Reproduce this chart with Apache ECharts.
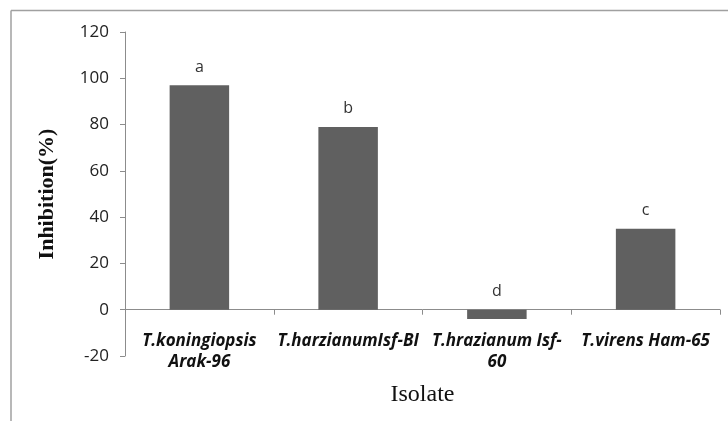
<!DOCTYPE html>
<html>
<head>
<meta charset="utf-8">
<script src="https://cdn.jsdelivr.net/npm/echarts@6/dist/echarts.min.js"></script>
<style>
html,body{margin:0;padding:0;background:#fff;}
#chart{width:728px;height:421px;}
</style>
</head>
<body>
<div id="chart"></div>
<script>
const categories = ['T.koningiopsis Arak-96', 'T.harzianumIsf-BI', 'T.hrazianum Isf-60', 'T.virens Ham-65'];
const categoryLabels = ['T.koningiopsis\nArak-96', 'T.harzianumIsf-BI', 'T.hrazianum Isf-\n60', 'T.virens Ham-65'];
const inhibition = [97, 79, -4, 35];
const letters = ['a', 'b', 'd', 'c'];
const yTicks = { min: -20, max: 120, interval: 20 };

const chart = echarts.init(document.getElementById('chart'), null, { renderer: 'canvas' });
chart.setOption({
  backgroundColor: '#ffffff',
  animation: false,
  graphic: [
    { type: 'line', shape: { x1: 11, y1: 10.5, x2: 728, y2: 10.5 }, style: { stroke: '#a0a0a0', lineWidth: 1.5 } },
    { type: 'line', shape: { x1: 11, y1: 10.5, x2: 11, y2: 421 }, style: { stroke: '#a0a0a0', lineWidth: 1.5 } }
  ],
  grid: { left: 125, right: 8, top: 32, bottom: 65, containLabel: false, outerBoundsMode: 'none' },
  xAxis: {
    type: 'category',
    data: categories,
    name: 'Isolate',
    nameLocation: 'middle',
    nameGap: 27,
    nameTextStyle: { fontFamily: 'Liberation Serif', fontSize: 24, color: '#111' },
    axisLine: { onZero: true, lineStyle: { color: '#8c8c8c', width: 1 } },
    axisTick: { show: true, alignWithLabel: false, length: 5, lineStyle: { color: '#8c8c8c' } },
    axisLabel: {
      interval: 0,
      margin: -25,
      fontFamily: 'Open Sans',
      fontStyle: 'italic',
      fontWeight: 'bold',
      fontSize: 17,
      lineHeight: 21,
      color: '#111',
      formatter: (v, i) => categoryLabels[i]
    }
  },
  yAxis: {
    type: 'value',
    min: yTicks.min,
    max: yTicks.max,
    interval: yTicks.interval,
    name: 'Inhibition(%)',
    nameLocation: 'middle',
    nameGap: 67,
    nameTextStyle: { fontFamily: 'Liberation Serif', fontWeight: 'bold', fontSize: 22, color: '#111' },
    axisLine: { show: true, lineStyle: { color: '#8c8c8c', width: 1 } },
    axisTick: { show: true, length: 5, lineStyle: { color: '#8c8c8c' } },
    splitLine: { show: false },
    axisLabel: { margin: 16, fontFamily: 'Open Sans', fontSize: 17, color: '#222' }
  },
  series: [{
    type: 'bar',
    data: inhibition,
    barWidth: '40%',
    itemStyle: { color: '#606060' },
    label: {
      show: true,
      position: 'top',
      distance: 10,
      fontFamily: 'Open Sans',
      fontSize: 16,
      color: '#333',
      formatter: p => letters[p.dataIndex]
    }
  }]
});
</script>
</body>
</html>
